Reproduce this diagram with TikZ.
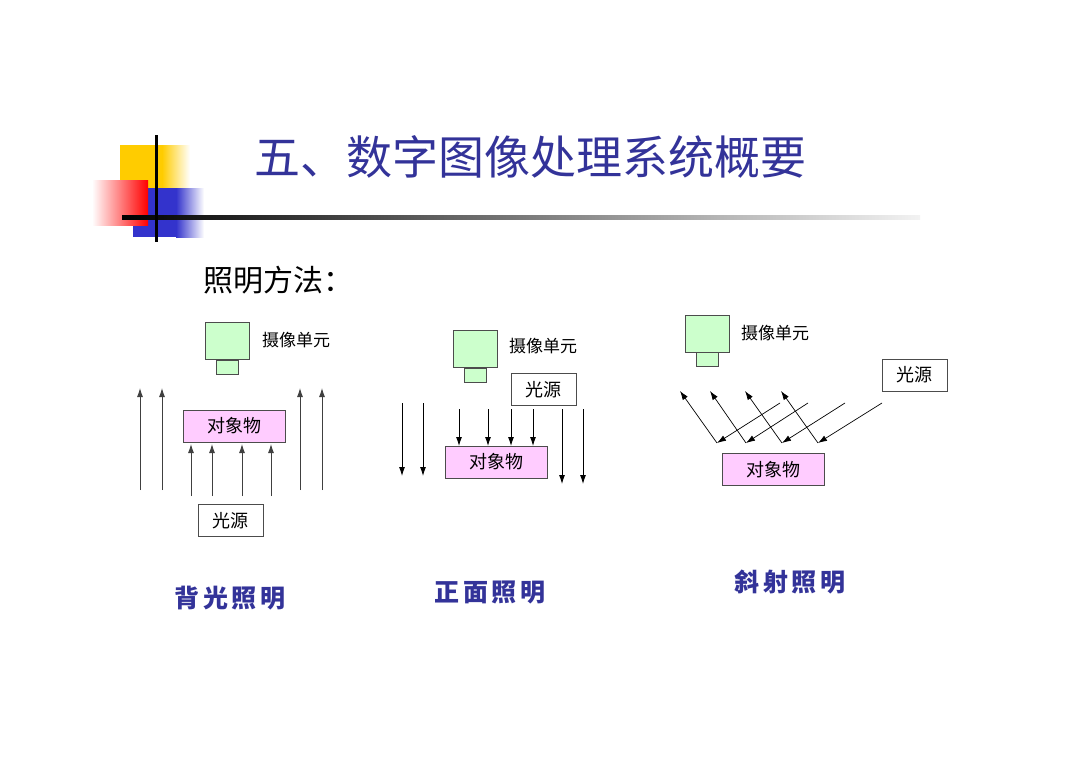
\documentclass[tikz,border=0pt]{standalone}
\usepackage{fontspec}
\newfontfamily\cjk{Noto Sans CJK SC}
\newfontfamily\cjkwide[LetterSpace=15]{Noto Sans CJK SC}
\usepackage{tikz}
\usetikzlibrary{arrows.meta,positioning,calc}

\definecolor{titleblue}{RGB}{51,51,153}
\definecolor{camgreen}{RGB}{204,255,204}
\definecolor{objpink}{RGB}{255,204,255}
\definecolor{decoyellow}{RGB}{255,204,0}
\definecolor{decoblue}{RGB}{51,51,204}
\definecolor{decored}{RGB}{255,0,0}

\tikzset{
  cam/.style={draw=black!70, fill=camgreen, minimum width=44pt, minimum height=37pt, inner sep=0pt},
  lens/.style={draw=black!70, fill=camgreen, minimum width=22pt, minimum height=14pt, inner sep=0pt},
  obj/.style={draw=black!70, fill=objpink, minimum width=102pt, minimum height=32pt, inner sep=0pt,
    font=\fontsize{18}{18}\cjk},
  src/.style={draw=black!70, fill=white, minimum width=65pt, minimum height=32pt, inner sep=0pt,
    font=\fontsize{18}{18}\cjk},
  camlabel/.style={anchor=west, inner sep=0pt, font=\fontsize{17}{17}\cjk},
  modelabel/.style={inner sep=0pt, text=titleblue, font=\fontsize{25}{25}\cjkwide\bfseries},
  ray/.style={-{Latex[length=9pt,width=6pt]}, line width=0.9pt},
}

\begin{document}
\begin{tikzpicture}[x=1pt,y=-1pt]
\useasboundingbox (0,0) rectangle (1080,763);

% corner decoration
\fill[decoyellow] (120,145) rectangle (162,188);
\shade[left color=decoyellow, right color=white] (162,145) rectangle (190,188);
\fill[decoblue] (133,188) rectangle (176,237);
\shade[left color=decoblue, right color=white] (176,188) rectangle (204,237);
\shade[left color=white, right color=decored] (92,180) rectangle (148,225);
\shade[left color=black, right color=black!5] (122,215) rectangle (920,219);
\fill[black] (155,135) rectangle (158,242);

% titles
\node[anchor=west, inner sep=0pt, text=titleblue, font=\fontsize{46}{46}\cjk] (title) at (254,157) {五、数字图像处理系统概要};
\node[anchor=west, inner sep=0pt, font=\fontsize{30}{30}\cjk] (method) at (203,280) {照明方法：};

% back lighting
\node[cam] (cam1) at (227,341) {};
\node[lens, below=0pt of cam1] (lens1) {};
\node[camlabel] (camtxt1) at (262,340) {摄像单元};
\node[obj] (obj1) at (234.5,426) {对象物};
\node[src] (src1) at (230.5,520.5) {光源};
\foreach \x in {140,162,300,322}
  \draw[ray, black!75] (\x,490) -- (\x,388);
\foreach \x in {191,212,242,271}
  \draw[ray, black!75] (\x,496) -- (\x,444);
\node[modelabel] (mode1) at (230,598) {背光照明};

% front lighting
\node[cam] (cam2) at (475,349) {};
\node[lens, below=0pt of cam2] (lens2) {};
\node[camlabel] (camtxt2) at (509,346) {摄像单元};
\node[src] (src2) at (543.5,389.5) {光源};
\node[obj] (obj2) at (496,462) {对象物};
\foreach \x in {402,423}
  \draw[ray] (\x,403) -- (\x,476);
\foreach \x in {459,488,511,533}
  \draw[ray] (\x,409) -- (\x,446);
\foreach \x in {562,583}
  \draw[ray] (\x,409) -- (\x,484);
\node[modelabel] (mode2) at (490,592) {正面照明};

% oblique lighting
\node[cam] (cam3) at (707,333.5) {};
\node[lens, below=0pt of cam3] (lens3) {};
\node[camlabel] (camtxt3) at (741,333) {摄像单元};
\node[src] (src3) at (914.5,375) {光源};
\node[obj] (obj3) at (773,469.5) {对象物};
\foreach \sx/\ex in {780/717, 808/746, 845/782, 882/818}
  \draw[ray, line width=0.7pt] (\sx,403) -- (\ex,443);
\foreach \sx/\ex in {717/680, 746/710, 782/745, 818/781}
  \draw[ray, line width=0.7pt] (\sx,443) -- (\ex,391);
\node[modelabel] (mode3) at (790,582) {斜射照明};

\end{tikzpicture}
\end{document}
